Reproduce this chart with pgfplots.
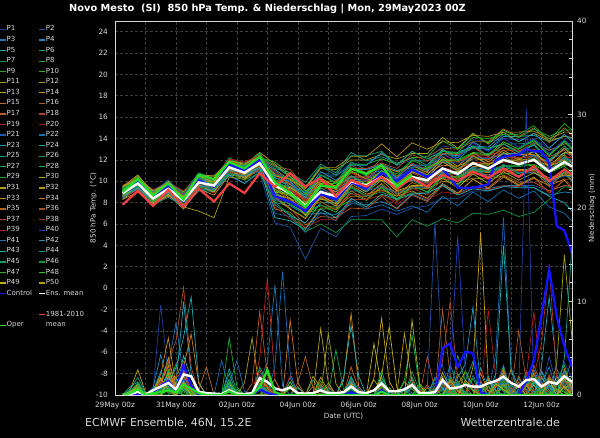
\documentclass[border=0pt]{standalone}
\usepackage{fontspec}
\setmainfont{DejaVu Sans}
\usepackage{pgfplots}
\usepackage{pgfplotstable}
\pgfplotsset{compat=1.18}
\definecolor{fg}{HTML}{D8D8D8}
\definecolor{gridc}{HTML}{3C3C3C}
\definecolor{ctrl}{HTML}{1414FF}
\definecolor{oper}{HTML}{22E022}
\definecolor{clim}{HTML}{F04040}
\definecolor{m1}{HTML}{1F3F9F}\definecolor{m2}{HTML}{2050A8}\definecolor{m3}{HTML}{1E78B8}\definecolor{m4}{HTML}{1E8CBC}\definecolor{m5}{HTML}{20A4B4}
\definecolor{m6}{HTML}{10A07C}\definecolor{m7}{HTML}{10A050}\definecolor{m8}{HTML}{14A83C}\definecolor{m9}{HTML}{20A828}\definecolor{m10}{HTML}{30B020}
\definecolor{m11}{HTML}{A0A010}\definecolor{m12}{HTML}{A89C18}\definecolor{m13}{HTML}{C8A010}\definecolor{m14}{HTML}{D08818}\definecolor{m15}{HTML}{C07018}
\definecolor{m16}{HTML}{A86020}\definecolor{m17}{HTML}{C05A20}\definecolor{m18}{HTML}{B04428}\definecolor{m19}{HTML}{B82828}\definecolor{m20}{HTML}{A81818}
\definecolor{m21}{HTML}{1860B0}\definecolor{m22}{HTML}{1470B4}\definecolor{m23}{HTML}{1C98C0}\definecolor{m24}{HTML}{18ACB0}\definecolor{m25}{HTML}{10A088}
\definecolor{m26}{HTML}{10A064}\definecolor{m27}{HTML}{10B048}\definecolor{m28}{HTML}{18BC30}\definecolor{m29}{HTML}{20A820}\definecolor{m30}{HTML}{B8B818}
\definecolor{m31}{HTML}{B0A018}\definecolor{m32}{HTML}{B89418}\definecolor{m33}{HTML}{C88418}\definecolor{m34}{HTML}{D07818}\definecolor{m35}{HTML}{B86418}
\definecolor{m36}{HTML}{A85420}\definecolor{m37}{HTML}{B84828}\definecolor{m38}{HTML}{A83020}\definecolor{m39}{HTML}{B81C1C}\definecolor{m40}{HTML}{1840C0}
\definecolor{m41}{HTML}{2070B0}\definecolor{m42}{HTML}{2090B8}\definecolor{m43}{HTML}{20B0B0}\definecolor{m44}{HTML}{10A090}\definecolor{m45}{HTML}{10A060}
\definecolor{m46}{HTML}{109840}\definecolor{m47}{HTML}{20B020}\definecolor{m48}{HTML}{30C818}\definecolor{m49}{HTML}{B8B010}\definecolor{m50}{HTML}{B89C10}
\newcommand\lc[1]{\makebox[32bp][l]{#1}}
\pgfplotstableread{
name c0 c1 c2 c3 c4 c5 c6 c7 c8 c9 c10 c11 c12 c13 c14 c15 c16 c17 c18 c19 c20 c21 c22 c23 c24 c25 c26 c27 c28 c29 c30
h 6 18 30 42 54 66 78 90 102 114 126 138 150 162 174 186 198 210 222 234 246 258 270 282 294 306 318 330 342 354 360
P1 9.1 10.1 8.5 9.5 8.2 10.0 9.4 11.3 11.1 11.9 10.8 9.9 9.0 10.8 10.6 11.7 11.5 12.6 11.5 12.0 11.9 13.3 13.1 13.9 13.7 14.0 13.9 13.9 13.1 14.4 13.8
P2 8.6 9.6 8.0 9.0 7.7 9.3 9.2 10.5 9.8 10.8 6.1 5.7 2.7 5.6 4.8 6.7 6.8 7.4 6.9 7.5 7.7 8.4 8.4 9.1 9.1 9.5 9.6 9.6 9.1 9.6 9.5
P3 9.3 10.3 9.0 9.7 8.7 10.6 10.5 11.9 11.6 12.2 11.4 10.4 9.6 10.2 9.5 11.3 10.6 11.0 10.4 10.9 10.4 11.9 10.9 12.2 12.1 12.6 12.6 12.7 12.1 12.6 12.5
P4 8.4 9.4 7.8 8.8 7.9 9.5 9.0 11.0 10.3 11.0 8.0 7.7 6.9 7.0 6.9 7.9 7.8 8.1 7.5 8.8 8.2 9.7 8.9 9.5 9.3 9.6 9.6 9.4 8.7 9.0 8.9
P5 9.0 9.8 8.6 9.6 8.3 10.3 9.8 11.8 11.1 12.3 9.0 8.0 7.3 9.5 9.4 10.4 10.5 11.6 11.0 11.5 11.5 13.0 12.2 13.7 12.9 14.2 14.2 14.3 13.7 14.2 14.1
P6 8.7 9.7 8.4 9.1 8.3 9.6 9.6 11.1 10.4 11.6 10.4 9.4 8.7 10.6 9.9 11.8 11.1 11.5 10.9 11.3 11.3 12.0 11.1 12.4 11.5 12.6 12.5 12.5 11.7 12.1 12.0
P7 9.5 10.3 9.1 9.7 8.8 10.2 10.1 12.1 11.4 12.6 9.8 8.6 7.8 8.4 7.7 9.5 8.6 9.7 8.3 9.6 9.0 10.6 9.7 11.2 10.3 10.7 10.8 10.8 10.2 10.7 10.0
P8 8.9 10.0 8.3 9.4 8.0 10.1 10.0 11.4 11.1 11.7 8.4 7.4 6.6 8.6 7.9 9.8 9.8 10.3 9.9 11.2 10.6 12.1 12.0 12.7 12.6 13.1 13.1 13.9 12.5 13.8 13.1
P9 8.5 9.2 8.1 8.8 8.0 9.4 9.3 10.7 10.4 11.5 10.1 9.8 8.3 10.0 9.3 11.2 10.5 11.7 10.5 11.9 11.9 12.6 12.6 13.3 12.4 13.5 12.7 13.4 11.8 13.1 12.4
P10 9.2 9.9 8.8 9.5 8.5 9.9 9.8 11.2 10.9 12.0 9.2 8.8 7.1 7.8 7.1 8.9 8.2 9.4 8.2 9.5 9.6 10.4 10.3 11.0 10.9 11.4 11.4 11.5 10.8 11.4 10.8
P11 8.8 9.5 8.4 9.1 7.8 9.8 9.3 11.3 10.6 11.8 11.1 10.1 9.3 11.2 11.1 12.0 12.0 12.5 12.1 12.6 12.6 14.1 13.1 14.5 13.5 14.6 13.7 14.5 13.8 14.2 14.1
P12 9.4 10.5 8.8 9.9 9.0 10.4 9.9 11.9 11.7 12.4 8.8 8.4 6.8 8.7 8.7 9.8 9.0 10.1 8.8 9.3 9.3 10.0 9.8 10.3 10.2 10.5 9.7 10.4 8.9 10.1 9.3
P13 8.3 9.4 7.7 8.8 7.4 9.3 8.7 10.6 10.4 11.1 9.6 9.3 7.8 9.7 9.0 10.9 10.2 10.7 10.2 10.8 10.9 12.3 11.4 12.7 11.8 12.9 12.1 12.8 11.3 12.5 11.7
P14 9.1 10.2 8.7 9.8 8.4 10.5 10.4 11.8 11.5 12.7 11.6 10.5 9.1 10.0 9.2 10.2 10.1 10.5 9.2 10.5 9.9 10.6 10.4 11.0 10.8 11.2 11.1 11.1 10.3 10.8 10.7
P15 8.6 9.3 8.2 8.9 8.1 9.6 9.5 10.9 10.1 11.2 7.4 7.1 5.6 7.5 7.5 8.6 8.6 9.8 8.6 9.9 9.3 10.8 10.0 11.4 11.3 11.8 11.8 11.9 11.2 11.8 11.8
P16 9.3 10.0 8.9 9.6 8.2 10.2 9.7 11.7 11.0 12.2 10.5 10.2 8.8 9.6 9.6 11.5 10.8 12.1 11.6 12.2 12.3 13.1 13.0 13.7 13.7 14.9 14.2 15.0 13.6 15.0 14.3
P17 8.8 9.9 8.2 9.3 8.4 9.8 9.8 11.7 10.9 12.0 8.6 7.5 5.9 6.7 6.6 7.5 7.4 8.6 7.4 8.7 8.1 9.6 8.8 10.2 9.4 10.6 9.9 9.9 9.1 9.6 9.5
P18 9.6 10.3 9.2 9.9 9.1 10.5 10.0 12.0 11.3 12.5 10.6 9.5 8.0 8.8 8.8 9.7 9.7 10.9 9.7 11.0 11.1 11.9 11.8 12.5 12.4 12.9 12.9 13.0 12.3 12.9 12.2
P19 8.7 9.4 8.3 9.0 7.6 9.5 8.9 10.8 10.5 11.1 9.4 9.1 8.3 9.3 9.3 10.4 10.4 11.6 10.4 11.7 11.1 12.6 11.8 12.4 12.2 12.6 11.8 12.5 11.0 12.2 11.4
P20 9.0 10.1 8.4 9.5 8.1 10.1 9.6 11.6 11.3 11.9 10.9 9.8 8.2 8.6 7.8 8.8 8.7 9.1 7.8 9.0 8.3 9.0 8.8 9.4 9.2 9.6 9.5 10.3 8.9 10.2 9.5
P21 8.4 9.5 7.8 8.9 8.0 9.4 9.4 11.4 10.6 11.3 9.9 8.9 7.3 9.2 8.4 10.3 10.3 10.8 10.3 10.9 11.0 11.8 11.7 12.3 12.1 12.5 12.4 12.4 11.6 12.1 12.0
P22 9.2 10.3 8.6 9.7 8.3 10.3 10.2 11.6 10.8 11.9 7.0 6.7 5.2 7.1 6.3 8.2 7.4 7.8 7.2 7.7 7.1 8.6 7.7 9.0 8.1 9.2 8.4 9.1 7.6 7.0 6.3
P23 8.9 9.6 8.5 9.2 8.4 10.4 9.9 11.9 11.2 12.4 10.0 9.7 8.9 10.9 10.1 11.1 11.1 11.6 10.3 11.6 11.0 12.5 12.4 13.1 13.0 13.5 12.7 13.4 11.9 13.1 13.0
P24 8.5 9.6 7.9 9.0 7.6 9.1 9.1 10.6 9.8 10.9 7.8 6.8 6.1 8.0 8.0 9.1 9.1 10.3 9.1 10.4 9.8 11.3 10.5 11.1 10.9 11.3 10.5 11.2 9.7 10.9 10.1
P25 9.1 9.8 8.7 9.4 8.6 10.1 10.1 11.6 11.4 12.1 11.2 10.8 9.9 11.6 10.8 12.7 11.9 12.3 11.7 12.2 11.5 12.9 12.0 13.3 12.4 13.5 13.5 13.6 12.9 13.5 13.5
P26 8.6 9.7 8.0 9.1 8.2 9.7 9.1 11.1 10.9 11.5 8.9 7.8 7.0 7.7 7.6 9.4 8.6 9.0 8.4 8.9 8.9 10.4 9.6 11.0 10.9 11.4 11.4 12.2 10.8 12.1 11.4
P27 9.4 10.1 9.0 9.7 8.9 10.8 10.2 12.2 11.5 12.7 10.2 9.1 7.5 9.4 8.6 10.5 9.7 11.0 9.7 10.2 10.2 10.9 10.0 11.3 10.4 11.5 10.7 11.4 9.9 11.1 10.3
P28 8.8 9.9 8.2 9.3 7.9 9.9 9.9 11.3 11.0 12.2 11.8 10.7 9.1 9.8 9.8 11.6 11.6 12.1 11.6 12.2 12.3 13.8 13.0 14.4 13.6 14.8 14.1 14.9 14.2 14.8 14.8
P29 9.2 10.4 8.8 9.5 8.7 10.2 9.7 11.7 11.0 11.6 8.2 7.9 7.0 7.4 7.4 8.3 8.3 9.5 8.3 9.6 9.0 10.5 10.4 11.1 11.0 11.5 11.5 11.6 10.9 11.5 11.5
P30 8.7 9.4 8.3 9.0 8.2 9.6 9.0 11.0 10.3 11.5 9.7 9.4 8.5 10.3 9.5 10.5 9.7 10.9 9.6 10.1 10.2 11.0 10.9 11.6 11.5 12.7 12.0 12.8 11.4 12.7 12.6
P31 9.0 9.7 8.0 8.7 7.6 7.2 6.6 10.4 10.2 11.4 8.7 8.4 7.6 8.3 8.2 10.0 10.0 10.4 9.9 11.2 10.6 12.1 11.2 11.8 11.6 12.0 11.9 11.9 11.1 11.6 11.5
P32 9.5 10.6 8.9 10.0 8.6 10.6 10.5 11.9 11.6 12.3 10.5 10.2 9.4 11.3 11.3 12.3 12.3 13.5 12.3 13.6 13.0 13.7 13.6 14.3 14.2 14.6 14.6 14.7 14.0 14.6 14.6
P33 8.3 9.0 7.9 8.6 7.8 9.8 9.2 11.1 10.3 11.4 8.5 7.4 6.5 8.5 7.7 9.6 8.8 9.2 8.6 9.1 8.4 9.8 8.9 10.2 9.3 10.4 9.6 10.3 9.6 10.2 10.2
P34 8.9 10.0 8.8 9.4 8.5 9.9 9.8 11.2 10.5 11.7 10.7 9.7 8.1 10.0 10.0 11.0 10.2 11.4 10.9 11.5 10.8 11.5 11.4 12.1 12.0 13.2 12.5 12.5 11.8 13.1 12.4
P35 9.3 10.0 8.4 9.5 8.1 10.0 9.4 11.4 11.1 11.8 9.3 8.2 7.4 8.1 7.3 9.1 8.3 9.5 9.0 9.5 9.6 11.1 10.2 10.8 10.6 11.0 11.0 11.0 9.5 10.8 10.1
P36 8.7 9.8 8.1 9.2 7.8 9.7 9.7 11.2 11.0 12.1 11.4 11.1 9.5 10.2 9.4 10.4 10.4 10.8 9.5 10.8 10.1 10.8 10.6 11.2 11.0 12.2 12.2 12.3 11.6 12.2 12.2
P37 9.2 9.9 8.8 9.5 8.7 10.2 10.2 11.6 10.9 12.1 9.5 9.2 8.4 10.1 9.3 11.2 11.2 11.7 11.2 12.5 11.9 12.6 12.5 13.2 12.3 13.5 12.8 13.6 12.9 13.5 13.5
P38 8.5 9.2 8.1 9.2 7.9 9.4 9.4 10.9 10.7 11.4 7.6 6.5 5.7 6.4 6.4 8.3 8.3 8.7 8.1 9.4 8.7 10.2 10.1 10.7 10.5 10.9 10.9 10.9 10.1 10.6 10.5
P39 9.1 10.2 8.5 9.6 8.8 10.7 10.1 12.1 11.8 12.4 10.1 9.0 8.2 9.0 9.0 10.8 10.0 10.4 9.1 10.4 9.7 11.2 11.1 11.8 11.7 12.2 12.2 12.3 11.6 12.2 12.2
P40 8.8 9.5 8.4 9.1 8.3 9.8 9.2 10.7 10.5 11.2 8.3 8.0 7.2 9.1 9.1 10.1 10.1 11.3 10.1 11.4 11.5 12.3 12.2 13.6 12.8 14.0 13.2 14.0 12.6 13.9 13.2
P41 9.4 10.1 9.0 10.1 8.7 10.7 10.1 11.6 11.4 12.0 11.0 9.9 8.4 8.9 8.1 9.9 9.1 9.5 8.9 9.4 9.4 10.9 10.0 11.3 10.4 11.6 10.8 10.8 10.0 10.5 10.4
P42 8.6 9.3 8.2 8.9 7.5 9.5 9.5 11.0 10.8 11.9 10.3 10.0 8.5 10.5 10.5 11.5 11.5 12.7 11.5 12.8 12.1 12.8 12.7 13.3 13.2 14.4 13.7 14.5 13.1 14.4 13.7
P43 9.0 10.1 8.4 9.5 8.1 10.1 10.0 11.5 10.7 11.3 6.6 6.3 5.5 7.4 6.6 8.4 7.6 8.8 8.3 8.8 8.9 9.6 8.7 9.3 9.1 9.5 9.4 9.4 8.6 8.0 7.2
P44 8.4 9.5 7.8 8.5 7.7 9.2 9.2 10.7 10.5 11.2 9.8 9.5 8.7 9.5 9.5 10.5 9.7 10.1 9.6 10.1 9.4 10.8 10.7 11.3 11.1 12.3 11.6 12.4 11.0 12.3 11.6
P45 9.2 10.3 8.6 9.3 8.4 10.4 9.8 11.8 11.0 12.2 10.6 10.3 9.5 11.4 10.6 12.4 12.4 12.8 11.5 12.8 12.1 12.8 12.6 13.2 13.1 13.5 12.7 13.5 12.0 13.3 12.6
P46 8.9 9.6 8.5 9.2 7.9 9.4 9.4 10.8 10.1 10.8 8.0 6.9 5.3 6.0 5.2 6.4 6.4 6.4 4.8 6.4 5.8 6.5 6.1 7.0 6.9 7.3 6.7 7.1 8.3 9.5 9.4
P47 9.3 10.4 8.7 9.8 8.4 9.9 9.9 11.4 11.2 12.3 11.5 10.4 8.8 10.6 9.8 10.8 10.8 11.2 10.7 12.0 11.3 12.8 12.7 14.1 14.0 14.4 14.4 15.2 13.8 15.4 14.8
P48 8.7 9.8 8.1 9.2 8.3 10.2 9.6 11.6 11.3 12.0 9.1 8.8 8.0 8.8 8.8 9.8 9.8 11.0 9.8 11.1 11.2 12.0 11.9 12.6 12.5 13.7 13.0 13.8 12.4 13.7 13.0
P49 9.5 10.2 9.1 9.8 8.5 10.5 9.9 11.9 11.1 11.8 9.0 8.7 7.9 9.8 9.0 10.0 9.2 10.4 9.1 9.6 9.6 10.3 9.4 10.7 9.8 10.9 10.1 10.8 10.1 10.6 10.5
P50 8.8 9.9 8.7 9.4 8.6 10.0 10.0 11.4 10.6 11.8 9.5 8.4 6.8 8.7 7.9 9.7 9.7 10.1 9.6 10.9 10.3 11.8 11.0 12.4 11.6 12.0 12.0 12.1 11.4 12.0 11.2
}\rawT
\pgfplotstabletranspose[colnames from=name]{\T}{\rawT}
\begin{document}
\begin{tikzpicture}
\fill[black] (0,0) rectangle (600bp,438bp);
\begin{axis}[
  at={(115bp,43bp)}, anchor=south west, scale only axis, width=457bp, height=374bp,
  xmin=0, xmax=360, ymin=-10, ymax=25,
  axis line style={fg, line width=0.8bp},
  xtick={0,24,...,336},
  xticklabels={29May 00z,,31May 00z,,02Jun 00z,,04Jun 00z,,06Jun 00z,,08Jun 00z,,10Jun 00z,,12Jun 00z},
  ytick={-10,-8,...,24},
  xtick pos=bottom, ytick pos=left,
  grid=major, grid style={gridc, dash pattern=on 2.5bp off 2.5bp, line width=0.6bp},
  major tick length=0pt,
  /pgf/number format/assume math mode=true,
  tick label style={fg, font=\fontsize{7.3bp}{8bp}\selectfont, inner sep=0pt},
  xticklabel style={anchor=base, yshift=-12.7bp},
  yticklabel style={anchor=east, xshift=-7bp},
  xlabel={Date (UTC)},
  xlabel style={fg, font=\fontsize{7.2bp}{8bp}\selectfont, at={(axis description cs:0.5,0)}, anchor=base, yshift=-23.3bp},
  ylabel={850 hPa Temp. (°C)},
  ylabel style={fg, font=\fontsize{7.2bp}{8bp}\selectfont, at={(axis description cs:-0.047,0.5)}, anchor=center},
  legend columns=2,
  legend cell align=left,
  legend style={at={(axis description cs:-0.2527,0.9917)}, anchor=north west, draw=none, fill=none,
    text=fg, font=\fontsize{7bp}{8bp}\selectfont, inner sep=0pt, outer sep=0pt,
    column sep=0pt, row sep=0pt,
    nodes={inner sep=0pt, outer sep=0pt, text height=6.8bp, text depth=3.77bp}},
  legend image code/.code={\draw[#1, line width=1.2bp] (0bp,0bp) -- (6bp,0bp);},
]
\addlegendimage{m1}\addlegendentry{\lc{P1}}\addlegendimage{m2}\addlegendentry{P2}
\addlegendimage{m3}\addlegendentry{\lc{P3}}\addlegendimage{m4}\addlegendentry{P4}
\addlegendimage{m5}\addlegendentry{\lc{P5}}\addlegendimage{m6}\addlegendentry{P6}
\addlegendimage{m7}\addlegendentry{\lc{P7}}\addlegendimage{m8}\addlegendentry{P8}
\addlegendimage{m9}\addlegendentry{\lc{P9}}\addlegendimage{m10}\addlegendentry{P10}
\addlegendimage{m11}\addlegendentry{\lc{P11}}\addlegendimage{m12}\addlegendentry{P12}
\addlegendimage{m13}\addlegendentry{\lc{P13}}\addlegendimage{m14}\addlegendentry{P14}
\addlegendimage{m15}\addlegendentry{\lc{P15}}\addlegendimage{m16}\addlegendentry{P16}
\addlegendimage{m17}\addlegendentry{\lc{P17}}\addlegendimage{m18}\addlegendentry{P18}
\addlegendimage{m19}\addlegendentry{\lc{P19}}\addlegendimage{m20}\addlegendentry{P20}
\addlegendimage{m21}\addlegendentry{\lc{P21}}\addlegendimage{m22}\addlegendentry{P22}
\addlegendimage{m23}\addlegendentry{\lc{P23}}\addlegendimage{m24}\addlegendentry{P24}
\addlegendimage{m25}\addlegendentry{\lc{P25}}\addlegendimage{m26}\addlegendentry{P26}
\addlegendimage{m27}\addlegendentry{\lc{P27}}\addlegendimage{m28}\addlegendentry{P28}
\addlegendimage{m29}\addlegendentry{\lc{P29}}\addlegendimage{m30}\addlegendentry{P30}
\addlegendimage{m31}\addlegendentry{\lc{P31}}\addlegendimage{m32}\addlegendentry{P32}
\addlegendimage{m33}\addlegendentry{\lc{P33}}\addlegendimage{m34}\addlegendentry{P34}
\addlegendimage{m35}\addlegendentry{\lc{P35}}\addlegendimage{m36}\addlegendentry{P36}
\addlegendimage{m37}\addlegendentry{\lc{P37}}\addlegendimage{m38}\addlegendentry{P38}
\addlegendimage{m39}\addlegendentry{\lc{P39}}\addlegendimage{m40}\addlegendentry{P40}
\addlegendimage{m41}\addlegendentry{\lc{P41}}\addlegendimage{m42}\addlegendentry{P42}
\addlegendimage{m43}\addlegendentry{\lc{P43}}\addlegendimage{m44}\addlegendentry{P44}
\addlegendimage{m45}\addlegendentry{\lc{P45}}\addlegendimage{m46}\addlegendentry{P46}
\addlegendimage{m47}\addlegendentry{\lc{P47}}\addlegendimage{m48}\addlegendentry{P48}
\addlegendimage{m49}\addlegendentry{\lc{P49}}\addlegendimage{m50}\addlegendentry{P50}
\addlegendimage{ctrl}\addlegendentry{\lc{Control}}\addlegendimage{white}\addlegendentry{Ens. mean}
\addlegendimage{empty legend}\addlegendentry{}\addlegendimage{empty legend}\addlegendentry{}
\addlegendimage{empty legend}\addlegendentry{}\addlegendimage{clim}\addlegendentry{1981-2010}
\addlegendimage{oper}\addlegendentry{\lc{Oper}}\addlegendimage{empty legend}\addlegendentry{mean}
\pgfplotsinvokeforeach{1,...,50}{\addplot[m#1, line width=0.7bp, forget plot] table[x=h, y=P#1]{\T};}
\addplot[ctrl, line width=2.3bp, forget plot] coordinates {(6,9.0)(18,10.0)(30,8.5)(42,9.5)(54,8.1)(66,10.1)(78,9.5)(90,11.6)(102,11.0)(114,12.0)(126,8.6)(138,8.1)(150,7.2)(162,8.8)(174,8.3)(186,9.9)(198,9.3)(210,10.8)(222,10.0)(234,11.1)(246,10.4)(258,11.2)(270,9.4)(282,9.4)(294,9.7)(300,12.0)(306,12.3)(318,12.5)(324,13.0)(330,12.8)(336,12.8)(342,11.7)(348,5.8)(354,5.4)(360,3.3)};
\addplot[white, line width=2.4bp, forget plot] coordinates {(6,8.9)(18,9.8)(30,8.4)(42,9.3)(54,8.2)(66,9.9)(78,9.6)(90,11.3)(102,10.8)(114,11.7)(126,9.6)(138,8.9)(150,7.7)(162,9.0)(174,8.6)(186,10.0)(198,9.6)(210,10.4)(222,9.5)(234,10.4)(246,10.1)(258,11.2)(270,10.7)(282,11.7)(294,11.2)(306,12.0)(318,11.6)(330,12.0)(342,10.9)(354,11.8)(360,11.4)};
\addplot[clim, line width=2.2bp, forget plot] coordinates {(6,7.8)(18,9.1)(30,7.7)(42,9.2)(54,7.6)(66,9.3)(78,8.1)(90,9.8)(102,8.9)(114,10.75)(126,9.5)(138,10.75)(150,9.5)(162,10.3)(174,8.6)(186,10.1)(198,9.5)(210,10.4)(222,9.35)(234,10.3)(246,9.5)(258,10.6)(270,10.0)(282,10.9)(294,10.3)(306,11.2)(318,10.4)(330,11.4)(342,10.0)(354,11.1)(360,10.6)};
\addplot[oper, line width=2.2bp, forget plot] coordinates {(6,9.0)(18,10.2)(30,8.7)(42,9.8)(54,8.3)(66,10.6)(78,10.2)(90,11.8)(102,11.2)(114,12.3)(126,9.9)(138,8.9)(150,7.6)(162,9.6)(174,9.4)(186,11.2)(198,10.7)(210,11.5)(222,9.5)(234,10.6)};
\end{axis}
\begin{axis}[
  at={(115bp,43bp)}, anchor=south west, scale only axis, width=457bp, height=374bp,
  xmin=0, xmax=360, ymin=0, ymax=40,
  axis x line=none, axis y line*=right,
  axis line style={fg, line width=0.8bp},
  ytick={0,10,...,40}, minor ytick={2,4,...,38},
  tick align=inside, major tick length=4bp, minor tick length=3bp,
  tick style={fg, line width=0.6bp},
  /pgf/number format/assume math mode=true,
  yticklabel style={fg, font=\fontsize{7.3bp}{8bp}\selectfont, inner sep=0pt, anchor=west, xshift=5bp},
  ylabel={Niederschlag (mm)},
  ylabel style={fg, font=\fontsize{7.2bp}{8bp}\selectfont, at={(axis description cs:1.0438,0.5)}, anchor=center},
]
\addplot[m1, line width=0.7bp] coordinates {(6,0)(12,0.3)(18,0.8)(24,0)(30,0.5)(36,9.6)(42,2.1)(48,0.4)(54,1.2)(60,0)(84,0)(90,1.5)(96,0)(108,0)(114,2.2)(120,0.8)(126,0)(156,0)(162,1.1)(168,0)(204,0)(210,1.4)(216,0)(252,0)(258,2.5)(264,0.8)(270,0)(294,0)(300,1.0)(306,3.2)(312,0.5)(318,0)(324,30.7)(330,0)(336,0)(342,2.0)(348,1.2)(354,3.5)(360,1.8)};
\addplot[m2, line width=0.7bp] coordinates {(6,0)(12,0)(18,0.4)(24,0)(36,0)(42,1.8)(48,0.6)(54,3.4)(60,1.0)(66,0)(108,0)(114,0.9)(120,2.6)(126,0.3)(132,0)(180,0)(186,0.7)(192,0)(240,0)(246,0.8)(252,18.5)(258,3.1)(264,0.4)(270,1.2)(276,0)(300,0)(306,1.5)(312,0)(324,0)(330,2.2)(336,0.6)(342,4.1)(348,1.0)(354,2.4)(360,0.9)};
\addplot[m3, line width=0.7bp] coordinates {(6,0)(12,0.2)(18,1.1)(24,0)(30,0)(36,1.6)(42,3.0)(48,7.7)(54,2.0)(60,0.5)(66,0)(84,0)(90,0.8)(96,0)(108,0)(114,1.4)(120,3.5)(126,11.8)(132,1.0)(138,0)(156,0)(162,0.6)(168,0)(204,0)(210,0.9)(216,0)(252,0)(258,1.3)(264,0)(276,0)(282,2.1)(288,0.4)(294,0)(300,0)(306,2.6)(312,0.7)(318,0)(330,0)(336,1.1)(342,3.0)(348,0.5)(354,1.6)(360,0.7)};
\addplot[m4, line width=0.7bp] coordinates {(6,0)(18,0)(24,0)(30,0.8)(36,4.3)(42,1.2)(48,0.3)(54,2.5)(60,0.9)(66,0)(132,0)(138,1.9)(144,0)(180,0)(186,1.2)(192,0.3)(198,0)(228,0)(234,1.0)(240,0)(258,0)(264,3.3)(270,0.9)(276,0)(312,0)(318,1.8)(324,0.5)(330,2.7)(336,0.8)(342,0)(348,0)(354,1.3)(360,3.9)};
\addplot[m5, line width=0.7bp] coordinates {(6,0)(12,0.5)(18,0.2)(24,0)(36,0)(42,2.4)(48,1.1)(54,10.0)(60,2.3)(66,0.4)(72,0)(108,0)(114,1.1)(120,0)(156,0)(162,0.7)(168,0)(204,0)(210,2.0)(216,0.4)(222,0)(252,0)(258,1.8)(264,0.6)(270,0)(282,0)(288,2.9)(294,0.5)(300,0)(330,0)(336,3.1)(342,10.5)(348,2.8)(354,0.9)(360,2.0)};
\addplot[m6, line width=0.7bp] coordinates {(6,0)(12,0.9)(18,1.4)(24,0.2)(30,0)(36,0.6)(42,1.8)(48,0.5)(54,0.7)(60,0)(84,0)(90,2.3)(96,0)(108,0)(114,3.0)(120,1.3)(126,0)(150,0)(156,1.6)(162,0.4)(168,0)(228,0)(234,2.5)(240,0.4)(246,0)(264,0)(270,4.2)(276,1.5)(282,3.6)(288,0)(318,0)(324,2.6)(330,1.0)(336,0)(348,0)(354,2.2)(360,0.8)};
\addplot[m7, line width=0.7bp] coordinates {(6,0)(18,0)(24,0)(30,0.3)(36,0.9)(42,2.2)(48,0.2)(54,0.9)(60,0)(114,0)(120,0.7)(126,0)(168,0)(174,4.8)(180,0.6)(186,1.3)(192,0)(252,0)(258,0.9)(264,0)(276,0)(282,1.8)(288,0)(300,0)(306,3.1)(312,0)(324,0)(330,1.6)(336,0)(354,0)(360,0.6)};
\addplot[m8, line width=0.7bp] coordinates {(6,0)(12,0)(18,0.6)(24,0)(42,0)(48,1.4)(54,2.0)(60,0.7)(66,0)(84,0)(90,1.2)(96,0.3)(102,0)(132,0)(138,0.8)(144,0)(204,0)(210,2.6)(216,0)(234,0)(240,1.0)(246,0)(258,0)(264,2.1)(270,0.5)(276,0)(300,0)(306,2.0)(312,0.6)(318,0)(342,0)(348,1.4)(354,3.2)(360,0.5)};
\addplot[m9, line width=0.7bp] coordinates {(6,0)(12,0.4)(18,0)(36,0)(42,1.0)(48,3.3)(54,0.8)(60,0)(84,0)(90,6.1)(96,0.9)(102,0)(114,0)(120,1.6)(126,0.3)(132,0)(180,0)(186,0.9)(192,0)(246,0)(252,1.7)(258,0.8)(264,0)(288,0)(294,1.9)(300,0.4)(306,0)(324,0)(330,2.4)(336,0.7)(342,0)(360,0)};
\addplot[m10, line width=0.7bp] coordinates {(6,0)(18,0)(24,0)(30,0.6)(36,1.9)(42,0.4)(48,0)(54,1.8)(60,0.5)(66,0)(108,0)(114,1.0)(120,0.4)(126,0)(162,0)(168,1.3)(174,0)(210,0)(216,0.8)(222,0)(234,0)(240,1.2)(246,0.3)(252,0)(270,0)(276,2.6)(282,1.0)(288,0)(318,0)(324,1.2)(330,0.4)(336,0)(348,0)(354,1.9)(360,0.3)};
\addplot[m11, line width=0.7bp] coordinates {(6,0)(12,0.2)(18,1.0)(24,0)(36,0)(42,2.7)(48,0.6)(54,1.5)(60,0.2)(66,0)(114,0)(120,0.5)(126,1.7)(132,0)(162,0)(168,6.6)(174,1.2)(180,0)(222,0)(228,1.4)(234,0.6)(240,0)(264,0)(270,1.1)(276,2.5)(282,0.4)(288,0)(318,0)(324,0.9)(330,2.3)(336,0)(342,0)(348,3.4)(354,15.0)(360,6.0)};
\addplot[m12, line width=0.7bp] coordinates {(6,0)(12,0)(18,0.3)(24,0)(30,0)(36,1.2)(42,4.0)(48,0.9)(54,0)(96,0)(102,1.3)(108,6.1)(114,0.5)(120,0)(150,0)(156,2.0)(162,0.8)(168,0)(198,0)(204,1.6)(210,0.5)(216,0)(252,0)(258,0.7)(264,0)(282,0)(288,1.3)(294,0)(306,0)(312,2.8)(318,0.9)(324,0)(342,0)(348,1.0)(354,2.6)(360,1.1)};
\addplot[m13, line width=0.7bp] coordinates {(6,0)(12,0.6)(18,2.7)(24,0.3)(30,0)(36,0.8)(42,2.3)(48,0.4)(54,0)(84,0)(90,0.9)(96,0)(132,0)(138,1.4)(144,0)(198,0)(204,1.8)(210,8.2)(216,1.5)(222,0)(246,0)(252,0.8)(258,2.0)(264,0)(276,0)(282,3.0)(288,17.4)(294,1.6)(300,0)(330,0)(336,1.3)(342,0.5)(348,0)(360,0)};
\addplot[m14, line width=0.7bp] coordinates {(6,0)(18,0)(24,0)(30,0.4)(36,2.2)(42,6.1)(48,1.0)(54,2.8)(60,0.6)(66,0)(108,0)(114,1.9)(120,0.7)(126,0)(174,0)(180,1.5)(186,8.7)(192,0.9)(198,0)(252,0)(258,1.4)(264,0.3)(270,0)(294,0)(300,0.8)(306,2.4)(312,0)(330,0)(336,2.0)(342,0.6)(348,0)(354,1.7)(360,0)};
\addplot[m15, line width=0.7bp] coordinates {(6,0)(12,0.2)(18,0)(30,0)(36,1.3)(42,3.6)(48,0.7)(54,1.9)(60,1.2)(66,0.5)(72,3.0)(78,0)(108,0)(114,1.2)(120,0.4)(126,0)(150,0)(156,0.9)(162,0)(228,0)(234,1.9)(240,0)(264,0)(270,2.3)(276,0.8)(282,0)(312,0)(318,1.4)(324,0.3)(330,0)(348,0)(354,2.8)(360,0.5)};
\addplot[m16, line width=0.7bp] coordinates {(6,0)(18,0)(24,0)(36,0)(42,1.7)(48,0.2)(54,2.4)(60,0.8)(66,0)(108,0)(114,2.7)(120,0.9)(126,0)(180,0)(186,1.7)(192,0)(228,0)(234,0.9)(240,0)(252,0)(258,9.1)(264,2.1)(270,0.4)(276,0)(300,0)(306,1.7)(312,0)(324,0)(330,3.2)(336,1.0)(342,0)(354,0)(360,1.0)};
\addplot[m17, line width=0.7bp] coordinates {(6,0)(12,0.4)(18,0.9)(24,0)(36,0)(42,0.6)(48,2.0)(54,3.6)(60,0.4)(66,0)(102,0)(108,1.2)(114,8.9)(120,2.2)(126,0)(156,0)(162,1.2)(168,0)(204,0)(210,0.6)(216,0)(240,0)(246,1.1)(252,0)(282,0)(288,1.4)(294,0.4)(300,0)(318,0)(324,1.9)(330,0.6)(336,0)(354,0)(360,0.4)};
\addplot[m18, line width=0.7bp] coordinates {(6,0)(18,0)(24,0)(30,0.2)(36,1.0)(42,3.5)(48,5.8)(54,11.5)(60,3.0)(66,0.2)(72,0)(108,0)(114,0.6)(120,0)(180,0)(186,1.0)(192,0)(252,0)(258,3.6)(264,10.0)(270,1.5)(276,0)(312,0)(318,1.2)(324,0)(336,0)(342,2.2)(348,0.4)(354,0)(360,0)};
\addplot[m19, line width=0.7bp] coordinates {(6,0)(12,0.3)(18,0)(36,0)(42,0.9)(48,0.3)(54,1.7)(60,0.6)(66,0)(108,0)(114,4.0)(120,12.5)(126,1.6)(132,0)(156,0)(162,0.7)(168,0)(204,0)(210,1.1)(216,0)(252,0)(258,1.6)(264,0.5)(270,0)(294,0)(300,1.1)(306,0.4)(312,0)(336,0)(342,1.5)(348,0.3)(354,0.9)(360,0)};
\addplot[m20, line width=0.7bp] coordinates {(6,0)(18,0)(24,0)(30,0.4)(36,1.5)(42,0.6)(48,0)(54,0.9)(60,0)(84,0)(90,0.7)(96,0)(132,0)(138,2.1)(144,0.3)(150,0)(210,0)(216,0.5)(222,0)(258,0)(264,1.2)(270,0.5)(276,0)(288,0)(294,9.1)(300,1.8)(306,0.6)(312,0)(342,0)(348,1.1)(354,0.7)(360,0)};
\addplot[m21, line width=0.7bp] coordinates {(6,0)(12,0)(18,0.5)(24,0)(36,0)(42,1.4)(48,0.5)(54,0.8)(60,0)(108,0)(114,0.8)(120,0.3)(126,0)(180,0)(186,0.6)(192,0)(252,0)(258,1.2)(264,0)(294,0)(300,4.5)(306,19.0)(312,3.0)(318,0.5)(324,0)(342,0)(348,2.2)(354,1.0)(360,0.4)};
\addplot[m22, line width=0.7bp] coordinates {(6,0)(18,0)(24,0)(30,0.3)(36,0.7)(42,2.0)(48,0.4)(54,1.6)(60,0.2)(66,0)(78,0)(84,3.7)(90,0.5)(96,0)(120,0)(126,3.1)(132,13.2)(138,2.4)(144,0)(204,0)(210,0.7)(216,0)(246,0)(252,1.3)(258,0.5)(264,0)(282,0)(288,1.1)(294,0)(318,0)(324,2.1)(330,0)(348,0)(354,1.5)(360,0.3)};
\addplot[m23, line width=0.7bp] coordinates {(6,0)(12,0.3)(18,0.9)(24,0)(36,0)(42,1.1)(48,0.3)(54,2.2)(60,0.5)(66,0)(84,0)(90,1.0)(96,0)(156,0)(162,0.8)(168,0)(222,0)(228,0.8)(234,0.2)(240,0)(264,0)(270,1.9)(276,3.3)(282,9.4)(288,1.0)(294,0)(324,0)(330,1.6)(336,0.5)(342,0)(354,0)(360,1.4)};
\addplot[m24, line width=0.7bp] coordinates {(6,0)(18,0)(24,0)(36,0)(42,1.3)(48,2.9)(54,6.2)(60,10.5)(66,1.4)(72,0)(108,0)(114,1.5)(120,0.4)(126,0)(180,0)(186,2.0)(192,0)(252,0)(258,0.6)(264,0)(294,0)(300,2.3)(306,16.0)(312,2.7)(318,0)(330,0)(336,1.8)(342,0.9)(348,0)(360,0)};
\addplot[m25, line width=0.7bp] coordinates {(6,0)(12,0.6)(18,1.9)(24,0.2)(30,0)(36,0.4)(42,1.6)(48,0)(54,0.5)(60,0)(84,0)(90,2.8)(96,0.4)(102,0)(132,0)(138,1.0)(144,0)(180,0)(186,1.9)(192,0.5)(198,0)(228,0)(234,1.7)(240,0)(258,0)(264,1.8)(270,0.6)(276,0)(300,0)(306,1.3)(312,0)(330,0)(336,2.4)(342,0.8)(348,0)(360,0)};
\addplot[m26, line width=0.7bp] coordinates {(6,0)(18,0)(24,0)(30,0.5)(36,1.1)(42,0.3)(48,0)(54,1.0)(60,0.3)(66,0)(108,0)(114,1.3)(120,0)(162,0)(168,0.8)(174,0)(204,0)(210,1.9)(216,0.3)(222,0)(252,0)(258,1.1)(264,0.3)(270,0)(300,0)(306,2.2)(312,0.4)(318,0)(348,0)(354,1.1)(360,0.4)};
\addplot[m27, line width=0.7bp] coordinates {(6,0)(12,0.2)(18,0.7)(24,0)(36,0)(42,1.5)(48,0.4)(54,0)(84,0)(90,1.7)(96,0)(114,0)(120,0.9)(126,0)(180,0)(186,0.6)(192,0)(222,0)(228,1.6)(234,6.4)(240,0.7)(246,0)(270,0)(276,1.4)(282,0.4)(288,0)(318,0)(324,1.6)(330,0.3)(336,0)(348,0)(354,0.8)(360,0)};
\addplot[m28, line width=0.7bp] coordinates {(6,0)(18,0)(24,0)(30,0.2)(36,0.5)(42,2.6)(48,0.8)(54,0.3)(60,0)(90,0)(96,0.6)(102,0)(132,0)(138,1.4)(144,0)(186,0)(192,0.7)(198,0)(252,0)(258,1.8)(264,0.4)(270,0)(282,0)(288,1.0)(294,0)(324,0)(330,1.4)(336,0.2)(342,0)(354,0)(360,0.5)};
\addplot[m29, line width=0.7bp] coordinates {(6,0)(12,0.5)(18,0.4)(24,0)(36,0)(42,0.9)(48,0.2)(54,1.3)(60,0)(108,0)(114,0.7)(120,0)(156,0)(162,1.5)(168,0.2)(174,0)(234,0)(240,0.6)(246,0)(264,0)(270,1.5)(276,0.2)(282,0)(300,0)(306,1.6)(312,0)(342,0)(348,1.2)(354,0.6)(360,0)};
\addplot[m30, line width=0.7bp] coordinates {(6,0)(18,0)(24,0)(36,0)(42,0.7)(48,1.9)(54,0.5)(60,0)(84,0)(90,1.2)(96,0)(132,0)(138,0.8)(144,0)(198,0)(204,5.5)(210,1.0)(216,0)(228,0)(234,8.0)(240,1.1)(246,0)(270,0)(276,1.2)(282,0.6)(288,0)(312,0)(318,1.0)(324,0)(342,0)(348,2.0)(354,0.7)(360,1.3)};
\addplot[m31, line width=0.7bp] coordinates {(6,0)(12,0.3)(18,1.2)(24,0)(36,0)(42,1.9)(48,0.6)(54,1.0)(60,0)(108,0)(114,1.6)(120,0.5)(126,0)(156,0)(162,7.1)(168,1.3)(174,0)(204,0)(210,1.2)(216,0)(252,0)(258,2.4)(264,0.7)(270,0)(300,0)(306,1.2)(312,0)(324,0)(330,1.1)(336,0)(354,0)(360,0.9)};
\addplot[m32, line width=0.7bp] coordinates {(6,0)(18,0)(24,0)(30,0.6)(36,1.8)(42,0.5)(48,0)(54,1.3)(60,0.7)(66,0)(84,0)(90,0.6)(96,0)(138,0)(144,0.9)(150,0)(180,0)(186,1.4)(192,0)(240,0)(246,0.8)(252,0)(264,0)(270,1.0)(276,0)(288,0)(294,1.7)(300,0.5)(306,0)(336,0)(342,1.9)(348,0.6)(354,0)(360,0)};
\addplot[m33, line width=0.7bp] coordinates {(6,0)(12,0.4)(18,0.6)(24,0)(36,0)(42,2.0)(48,0.9)(54,3.0)(60,6.5)(66,1.2)(72,0)(108,0)(114,1.0)(120,0.3)(126,0)(180,0)(186,1.2)(192,0)(228,0)(234,1.3)(240,0)(258,0)(264,1.4)(270,0)(294,0)(300,0.9)(306,2.8)(312,0)(330,0)(336,1.4)(342,0)(354,0)(360,0.6)};
\addplot[m34, line width=0.7bp] coordinates {(6,0)(18,0)(24,0)(30,0.3)(36,1.2)(42,3.1)(48,0.4)(54,0.8)(60,0)(108,0)(114,1.8)(120,0.9)(126,0)(132,0)(138,8.0)(144,1.3)(150,0)(204,0)(210,0.9)(216,0)(252,0)(258,1.5)(264,0.3)(270,0)(282,0)(288,2.3)(294,0.5)(300,0)(324,0)(330,1.8)(336,0.5)(342,0)(354,0)(360,0.7)};
\addplot[m35, line width=0.7bp] coordinates {(6,0)(12,0.2)(18,0.5)(24,0)(36,0)(42,1.3)(48,0.6)(54,1.9)(60,0.4)(66,0)(84,0)(90,0.5)(96,0)(138,0)(144,1.3)(150,4.1)(156,0.8)(162,0)(180,0)(186,3.0)(192,0.6)(198,0)(246,0)(252,0.5)(258,1.8)(264,0)(288,0)(294,0.9)(300,0)(312,0)(318,2.0)(324,0.4)(330,0)(354,0)(360,0)};
\addplot[m36, line width=0.7bp] coordinates {(6,0)(18,0)(24,0)(36,0)(42,0.8)(48,0.2)(54,1.4)(60,0.8)(66,0)(108,0)(114,0.9)(120,0)(156,0)(162,1.0)(168,0)(204,0)(210,1.3)(216,0)(252,0)(258,0.7)(264,0)(282,0)(288,1.5)(294,0.4)(300,0)(312,0)(318,6.9)(324,1.4)(330,0.3)(336,0)(348,0)(354,1.4)(360,0.6)};
\addplot[m37, line width=0.7bp] coordinates {(6,0)(12,0.3)(18,0.8)(24,0)(36,0)(42,0.5)(48,1.8)(54,2.6)(60,0.3)(66,0)(108,0)(114,2.0)(120,1.0)(126,0)(162,0)(168,1.0)(174,0)(240,0)(246,4.1)(252,0.6)(258,0)(276,0)(282,1.2)(288,0)(306,0)(312,0.8)(318,0)(336,0)(342,1.2)(348,0)(360,0)};
\addplot[m38, line width=0.7bp] coordinates {(6,0)(18,0)(24,0)(30,0.4)(36,1.4)(42,0.4)(48,0)(54,2.3)(60,0.6)(66,0)(108,0)(114,0.6)(120,0)(180,0)(186,0.8)(192,0)(252,0)(258,1.0)(264,0.6)(270,0)(294,0)(300,1.4)(306,0.5)(312,0)(324,0)(330,2.0)(336,5.5)(342,14.0)(348,1.8)(354,0.6)(360,0)};
\addplot[m39, line width=0.7bp] coordinates {(6,0)(12,0.3)(18,0)(36,0)(42,1.0)(48,0.4)(54,1.1)(60,0)(108,0)(114,1.4)(120,0.6)(126,0)(204,0)(210,0.6)(216,0)(258,0)(264,1.6)(270,0.3)(276,0)(300,0)(306,1.0)(312,0)(318,0)(324,2.1)(330,8.9)(336,1.2)(342,0)(354,0)(360,0.8)};
\addplot[m40, line width=0.7bp] coordinates {(6,0)(18,0)(24,0)(36,0)(42,1.1)(48,0.3)(54,1.8)(60,0.2)(66,0)(84,0)(90,0.8)(96,0)(132,0)(138,0.9)(144,0)(186,0)(192,0.8)(198,0)(258,0)(264,2.5)(270,17.0)(276,2.4)(282,0.5)(288,0)(306,0)(312,1.3)(318,0)(330,0)(336,1.5)(342,0.6)(348,0)(360,0)};
\addplot[m41, line width=0.7bp] coordinates {(6,0)(12,0.5)(18,0.3)(24,0)(36,0)(42,1.7)(48,0.3)(54,0.6)(60,0)(84,0)(90,1.1)(96,3.7)(102,0.4)(108,0)(114,1.1)(120,0)(162,0)(168,0.5)(174,0)(228,0)(234,1.2)(240,0)(264,0)(270,1.3)(276,0.4)(282,0)(300,0)(306,1.9)(312,0.3)(318,0)(342,0)(348,1.6)(354,2.5)(360,0.4)};
\addplot[m42, line width=0.7bp] coordinates {(6,0)(18,0)(24,0)(30,0.5)(36,2.5)(42,0.8)(48,0)(54,1.5)(60,0.2)(66,0)(108,0)(114,1.1)(120,0.3)(126,0)(180,0)(186,1.5)(192,0.2)(198,0)(246,0)(252,1.9)(258,0.7)(264,0)(288,0)(294,2.0)(300,0.3)(306,0)(330,0)(336,2.6)(342,1.1)(348,0)(360,0)};
\addplot[m43, line width=0.7bp] coordinates {(6,0)(12,0.3)(18,0.6)(24,0)(36,0)(42,1.4)(48,0.3)(54,4.2)(60,1.8)(66,0)(108,0)(114,0.9)(120,0)(174,0)(180,1.8)(186,7.4)(192,2.0)(198,0)(222,0)(228,0.5)(234,0)(258,0)(264,1.1)(270,0)(294,0)(300,1.6)(306,0.4)(312,0)(336,0)(342,1.1)(348,0.4)(354,0)(360,0)};
\addplot[m44, line width=0.7bp] coordinates {(6,0)(18,0)(24,0)(36,0)(42,0.9)(48,0.2)(54,0.7)(60,0)(84,0)(90,1.4)(96,0)(138,0)(144,0.8)(150,0)(204,0)(210,1.6)(216,0.3)(222,0)(264,0)(270,1.2)(276,0)(300,0)(306,1.0)(312,0)(324,0)(330,1.3)(336,0.4)(342,0)(348,0)(354,4.0)(360,16.0)};
\addplot[m45, line width=0.7bp] coordinates {(6,0)(12,0.4)(18,1.3)(24,0)(36,0)(42,0.7)(48,0)(54,1.1)(60,0.3)(66,0)(84,0)(90,0.9)(96,0)(156,0)(162,0.9)(168,0)(228,0)(234,0.8)(240,0)(264,0)(270,0.9)(276,0.3)(282,0)(306,0)(312,1.1)(318,0)(342,0)(348,0.9)(354,0.4)(360,0)};
\addplot[m46, line width=0.7bp] coordinates {(6,0)(18,0)(24,0)(30,0.4)(36,0.9)(42,0.2)(48,0)(54,0.6)(60,0)(108,0)(114,1.2)(120,0.4)(126,0)(180,0)(186,0.7)(192,0)(246,0)(252,0.9)(258,0.3)(264,0)(294,0)(300,1.3)(306,0.4)(312,0)(330,0)(336,0.7)(342,0)(360,0)};
\addplot[m47, line width=0.7bp] coordinates {(6,0)(12,0.2)(18,0.9)(24,0)(36,0)(42,1.2)(48,0.4)(54,0)(84,0)(90,1.4)(96,0.3)(102,0)(132,0)(138,0.7)(144,0)(204,0)(210,0.9)(216,0)(258,0)(264,0.7)(270,0)(288,0)(294,1.0)(300,0)(330,0)(336,1.1)(342,0.3)(348,0)(360,0)};
\addplot[m48, line width=0.7bp] coordinates {(6,0)(18,0)(24,0)(36,0)(42,0.6)(48,0)(54,0.8)(60,0.2)(66,0)(108,0)(114,0.6)(120,0)(180,0)(186,0.8)(192,0)(246,0)(252,0.6)(258,0)(300,0)(306,0.9)(312,0)(342,0)(348,0.6)(354,0.3)(360,0)};
\addplot[m49, line width=0.7bp] coordinates {(6,0)(12,0.4)(18,0.8)(24,0)(36,0)(42,1.6)(48,0.5)(54,1.2)(60,0)(84,0)(90,0.7)(96,0)(132,0)(138,1.0)(144,0)(204,0)(210,2.1)(216,7.3)(222,0.8)(228,0)(258,0)(264,1.6)(270,0.4)(276,0)(294,0)(300,1.2)(306,0.6)(312,0)(336,0)(342,1.7)(348,0)(354,0.9)(360,0)};
\addplot[m50, line width=0.7bp] coordinates {(6,0)(18,0)(24,0)(30,0.3)(36,1.7)(42,0.6)(48,0)(54,1.4)(60,0.4)(66,0)(108,0)(114,0.8)(120,0)(156,0)(162,1.9)(168,0.4)(174,0)(222,0)(228,6.6)(234,1.4)(240,0)(270,0)(276,1.6)(282,0.5)(288,0)(318,0)(324,1.1)(330,0)(348,0)(354,2.1)(360,0.6)};
\addplot[ctrl, line width=2.3bp] coordinates {(6,0)(24,0)(30,0.3)(36,1.0)(42,1.5)(48,0.5)(54,3.2)(60,1.0)(66,0)(84,0)(90,0.4)(96,0)(108,0)(114,0.6)(120,0.2)(126,0)(180,0)(186,0.3)(192,0)(204,0)(210,0.5)(216,0)(252,0)(258,5.0)(264,5.5)(270,3.0)(276,4.6)(282,4.5)(288,0.3)(294,0)(318,0)(324,1.5)(330,3.7)(336,8.5)(342,13.4)(348,8.4)(354,5.2)(360,3.0)};
\addplot[white, line width=2.4bp] coordinates {(6,0)(12,0.1)(18,0.35)(24,0.05)(30,0.5)(36,0.9)(42,1.3)(48,0.6)(54,2.2)(60,2.0)(66,0.35)(72,0.2)(78,0.15)(84,0.1)(90,0.5)(96,0.15)(102,0.1)(108,0.2)(114,1.8)(120,1.4)(126,0.7)(132,0.5)(138,0.8)(144,0.2)(150,0.15)(156,0.2)(162,0.5)(168,0.2)(174,0.2)(180,0.3)(186,0.9)(192,0.3)(198,0.2)(204,0.5)(210,1.25)(216,0.4)(222,0.4)(228,0.6)(234,1.07)(240,0.2)(246,0.2)(252,0.3)(258,1.6)(264,0.7)(270,0.8)(276,1.07)(282,0.9)(288,0.9)(294,1.25)(300,1.5)(306,1.96)(312,1.3)(318,0.9)(324,1.6)(330,1.7)(336,0.9)(342,1.4)(348,1.2)(354,2.0)(360,1.4)};
\addplot[oper, line width=2.2bp] coordinates {(6,0)(12,0.2)(18,0.6)(24,0)(30,0.2)(36,0.3)(42,0.5)(48,0.3)(54,1.1)(60,0.7)(66,0.2)(72,0)(84,0)(90,0.4)(96,0)(108,0)(114,0.8)(120,2.7)(126,0.3)(132,0)(204,0)(210,0.35)(216,0)(360,0)};
\end{axis}
\node[anchor=base, white, font=\bfseries\fontsize{9.8bp}{11bp}\selectfont] at (267.5bp,426bp) {Novo Mesto\ \ (SI)\ \ 850 hPa Temp. \& Niederschlag | Mon, 29May2023 00Z};
\node[anchor=base west, fg, inner sep=0pt, font=\fontsize{11bp}{12bp}\selectfont] at (85bp,11.3bp) {ECMWF Ensemble, 46N, 15.2E};
\node[anchor=base east, fg, inner sep=0pt, font=\fontsize{11bp}{12bp}\selectfont] at (560bp,11.3bp) {Wetterzentrale.de};
\pgfresetboundingbox
\path[use as bounding box] (0,0) rectangle (600bp,438bp);
\end{tikzpicture}
\end{document}
